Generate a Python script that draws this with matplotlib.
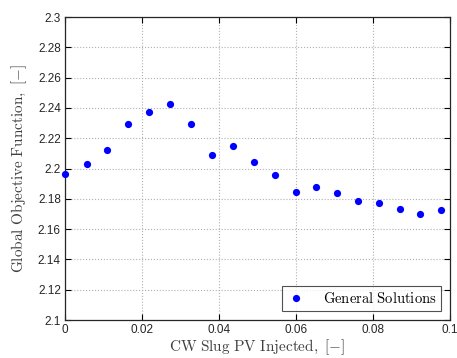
import matplotlib
matplotlib.use("Agg")
import matplotlib.pyplot as plt

# CW slug size vs. global objective function
slug_pv = [0.0, 0.0056, 0.0109, 0.0164, 0.0218, 0.0273, 0.0327, 0.0382, 0.0436, 0.0491,
           0.0545, 0.0599, 0.0652, 0.0706, 0.0760, 0.0815, 0.0869, 0.0923, 0.0977]
objective = [2.1963, 2.2030, 2.2125, 2.2293, 2.2373, 2.2423, 2.2293, 2.2089, 2.2147, 2.2040,
             2.1958, 2.1845, 2.1876, 2.1840, 2.1785, 2.1772, 2.1731, 2.1700, 2.1726]
xticks = [0, 0.02, 0.04, 0.06, 0.08, 0.1]
yticks = [2.1, 2.12, 2.14, 2.16, 2.18, 2.2, 2.22, 2.24, 2.26, 2.28, 2.3]

plt.rcParams['mathtext.fontset'] = 'cm'
plt.rcParams['font.family'] = ['Liberation Sans', 'DejaVu Sans']

fig = plt.figure(figsize=(4.57, 3.58), dpi=100)
ax = fig.add_axes([65 / 457, 1 - 320 / 358, 385 / 457, 303 / 358])

ax.plot(slug_pv, objective, 'o', color='#0000ff', markersize=5.2, markeredgewidth=0,
        label=r'$\mathrm{General\ Solutions}$', clip_on=False, zorder=3)

ax.set_xlim(0, 0.1)
ax.set_ylim(2.1, 2.3)
ax.set_xticks(xticks)
ax.set_xticklabels(['0', '0.02', '0.04', '0.06', '0.08', '0.1'])
ax.set_yticks(yticks)
ax.set_yticklabels(['2.1', '2.12', '2.14', '2.16', '2.18', '2.2', '2.22', '2.24', '2.26', '2.28', '2.3'])

ax.tick_params(direction='in', top=True, right=True, length=4, width=0.8,
               labelsize=8.5, labelcolor='#262626', pad=3)
ax.grid(True, linestyle=':', color='#b0b0b0', linewidth=0.8)
ax.set_axisbelow(True)
for s in ax.spines.values():
    s.set_linewidth(0.9)
    s.set_color('#262626')

ax.set_xlabel(r'$\mathrm{CW\ Slug\ PV\ Injected,\ [-]}$', fontsize=11, color='#404040', labelpad=1)
ax.set_ylabel(r'$\mathrm{Global\ Objective\ Function,\ [-]}$', fontsize=11, color='#404040', labelpad=6)

leg = ax.legend(loc='lower right', fontsize=10.5, frameon=True, fancybox=False,
                borderpad=0.35, handlelength=1.2, handletextpad=1.2, borderaxespad=0.6)
leg.get_frame().set_edgecolor('#262626')
leg.get_frame().set_linewidth(0.8)

fig.savefig('out.png', dpi=100)
